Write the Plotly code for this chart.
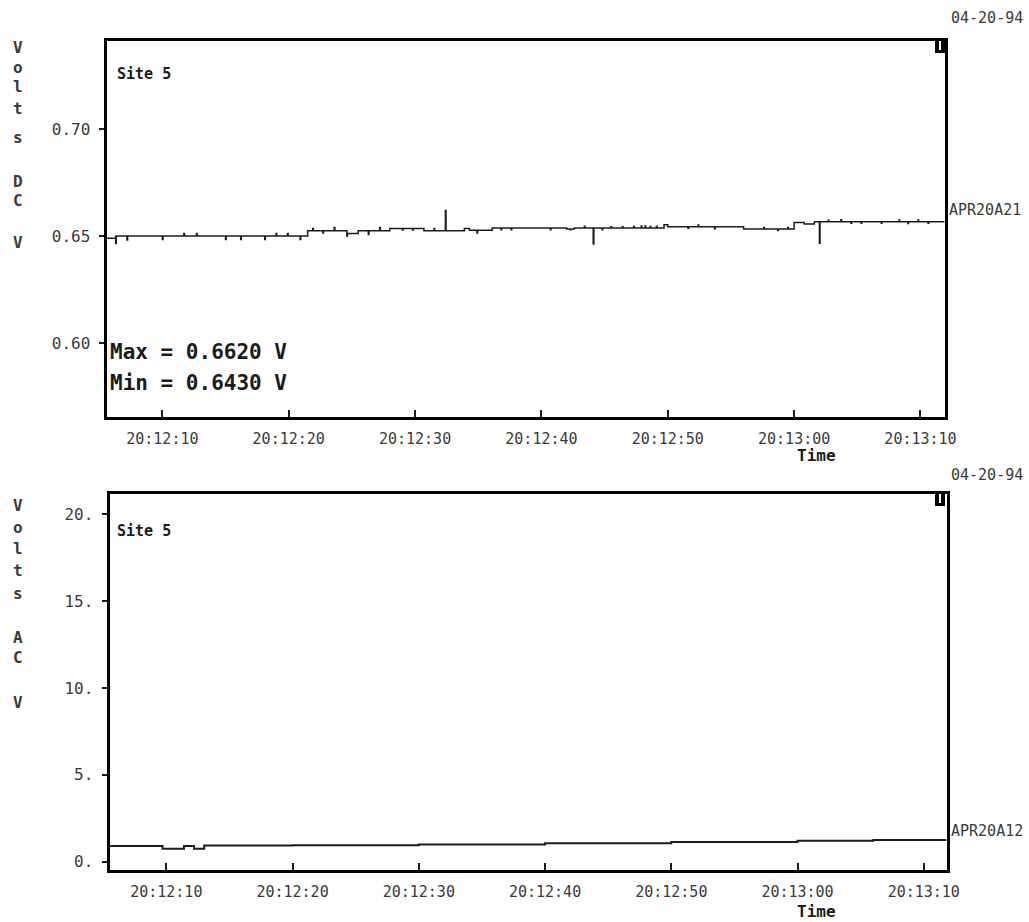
import bisect
import pandas as pd
import plotly.graph_objects as go

# ---------------- data (seconds after 20:12:00 on 04-20-94) ----------------
BASE = "1994-04-20 20:12:00"

# DC channel: step levels (time of change, new level in volts)
dc_step_t = [5.58, 6.3, 21.5, 24.6, 25.5, 28.0, 30.7, 33.9, 34.3, 36.1, 42.0, 42.6,
             49.7, 50.0, 56.0, 60.0, 60.8, 61.6, 71.9]
dc_step_v = [0.6490, 0.6500, 0.6525, 0.6512, 0.6525, 0.6536, 0.6525, 0.6535, 0.6527,
             0.6538, 0.6533, 0.6538, 0.6553, 0.6544, 0.6533, 0.6564, 0.6556, 0.6567,
             0.6566]
# DC channel: single-sample glitches (time, value)
dc_spike_t = [6.3, 7.2, 10.0, 11.7, 12.7, 15.0, 16.2, 18.1, 19.0, 19.9, 20.9, 21.9,
              22.7, 23.6, 24.6, 26.3, 27.2, 29.0, 29.8, 31.5, 32.4, 34.9, 36.8, 37.6,
              40.7, 42.3, 43.4, 44.1, 44.8, 45.5, 46.4, 47.3, 47.9, 48.2, 48.6, 49.1,
              51.6, 52.4, 53.7, 57.6, 58.7, 59.5, 62.0, 62.7, 63.7, 64.5, 65.3, 66.9,
              68.3, 69.0, 69.8, 70.6]
dc_spike_v = [0.6465, 0.6482, 0.6484, 0.6512, 0.6512, 0.6484, 0.6484, 0.6484, 0.6512,
              0.6512, 0.6484, 0.6536, 0.6514, 0.6540, 0.6500, 0.6508, 0.6540, 0.6528,
              0.6528, 0.6536, 0.6620, 0.6514, 0.6530, 0.6530, 0.6530, 0.6530, 0.6546,
              0.6463, 0.6530, 0.6544, 0.6544, 0.6545, 0.6547, 0.6547, 0.6545, 0.6546,
              0.6537, 0.6552, 0.6534, 0.6540, 0.6526, 0.6540, 0.6466, 0.6574, 0.6576,
              0.6560, 0.6560, 0.6560, 0.6575, 0.6559, 0.6575, 0.6560]

# AC channel: step levels (time, volts)
ac_t = [5.5, 9.7, 11.4, 12.2, 13.0, 20.0, 30.0, 40.0, 50.0, 60.0, 66.0, 71.8]
ac_v = [0.90, 0.74, 0.90, 0.74, 0.92, 0.94, 0.98, 1.05, 1.12, 1.19, 1.24, 1.26]

dc_ticks = [0.60, 0.65, 0.70]
ac_ticks = [0, 5, 10, 15, 20]
ac_ticktext = ["0.", "5.", "10.", "15.", "20."]
time_ticks_s = [10, 20, 30, 40, 50, 60, 70]

# ---------------- build DC series with glitches ----------------
GLITCH = 0.05
pts = list(zip(dc_step_t, dc_step_v))
for t, v in zip(dc_spike_t, dc_spike_v):
    i = bisect.bisect_right(dc_step_t, t + GLITCH) - 1
    base_lvl = dc_step_v[max(i, 0)]
    pts.append((t, v))
    pts.append((t + GLITCH, base_lvl))
pts.sort(key=lambda p: p[0])
dc_tt = [p[0] for p in pts]
dc_vv = [p[1] for p in pts]

base = pd.Timestamp(BASE)
def ts(sec_list):
    return [base + pd.Timedelta(seconds=s) for s in sec_list]

W, H = 1029, 922
def px(x):
    return x / W
def py(y):
    return 1 - y / H

MONO = "DejaVu Sans Mono"
INK = "#1c1c1c"
GREY = "#3a3a3a"

fig = go.Figure()
fig.add_trace(go.Scatter(x=ts(dc_tt), y=dc_vv, mode="lines", line_shape="hv",
                         line=dict(color=INK, width=1.5), xaxis="x", yaxis="y",
                         showlegend=False, hoverinfo="skip"))
fig.add_trace(go.Scatter(x=ts(ac_t), y=ac_v, mode="lines", line_shape="hv",
                         line=dict(color=INK, width=2), xaxis="x2", yaxis="y2",
                         showlegend=False, hoverinfo="skip"))

tick_vals = ts(time_ticks_s)
tick_text = [t.strftime("%H:%M:%S") for t in tick_vals]

xcommon = dict(type="date", tickvals=tick_vals, ticktext=tick_text,
               ticks="inside", ticklen=7, tickwidth=1.5, tickcolor=INK,
               showline=True, linecolor="black", linewidth=3, mirror=True,
               showgrid=False, zeroline=False, ticklabelstandoff=6, automargin=False,
               tickfont=dict(family=MONO, size=15, color=GREY))
ycommon = dict(ticks="outside", ticklen=5, tickwidth=1.5, tickcolor=INK,
               showline=True, linecolor="black", linewidth=3, mirror=True,
               showgrid=False, zeroline=False, automargin=False, ticklabelstandoff=5,
               tickfont=dict(family=MONO, size=16, color=GREY))

fig.update_layout(
    template="none",
    width=W, height=H, autosize=False,
    margin=dict(l=0, r=0, t=0, b=0, pad=0),
    paper_bgcolor="white", plot_bgcolor="white",
    xaxis=dict(domain=[px(106.5), px(944.5)], anchor="y",
               range=ts([5.58, 71.9]), **xcommon),
    yaxis=dict(domain=[py(416.5), py(40.5)], anchor="x",
               range=[0.5657, 0.7414], tickvals=dc_ticks,
               ticktext=[f"{v:.2f}" for v in dc_ticks], **ycommon),
    xaxis2=dict(domain=[px(109.5), px(946.5)], anchor="y2",
                range=ts([5.5, 71.8]), **xcommon),
    yaxis2=dict(domain=[py(869.5), py(493.5)], anchor="x2",
                range=[-0.46, 21.2], tickvals=ac_ticks, ticktext=ac_ticktext,
                **ycommon),
)

ann = []
def text(x, y, s, size=15, bold=False, color=INK, xanchor="left", **kw):
    ann.append(dict(xref="paper", yref="paper", x=px(x), y=py(y), text=(f"<b>{s}</b>" if bold else s),
                    showarrow=False, xanchor=xanchor, yanchor="middle",
                    font=dict(family=MONO, size=size, color=color), **kw))

# vertical stacked axis titles
for ch, y in zip("VoltsDCV", [48, 67, 87, 108, 137, 181, 200, 242]):
    text(18, y, ch, size=16, bold=True, xanchor="center", color=GREY)
for ch, y in zip("VoltsACV", [505, 527, 548, 570, 593, 637, 657, 702]):
    text(18, y, ch, size=16, bold=True, xanchor="center", color=GREY)

text(115, 74, "Site 5", size=15, bold=True)
text(115, 531, "Site 5", size=15, bold=True)
text(108, 352, "Max = 0.6620 V", size=21, bold=True)
text(108, 383, "Min = 0.6430 V", size=21, bold=True)
text(816, 455, "Time", size=16, bold=True, xanchor="center")
text(816, 911, "Time", size=16, bold=True, xanchor="center")
text(949, 18, "04-20-94", size=15, color=GREY)
text(949, 475, "04-20-94", size=15, color=GREY)
text(947, 210, "APR20A21", size=15, color=GREY)
text(949, 831, "APR20A12", size=15, color=GREY)

fig.update_layout(annotations=ann)

# small status markers in the top-right corners
shapes = []
for (x0, y0) in [(935, 38), (935, 491)]:
    shapes.append(dict(type="rect", xref="paper", yref="paper",
                       x0=px(x0), x1=px(x0 + 10), y0=py(y0 + 15), y1=py(y0),
                       fillcolor="black", line=dict(width=0)))
    shapes.append(dict(type="line", xref="paper", yref="paper",
                       x0=px(x0 + 5), x1=px(x0 + 5), y0=py(y0 + 12), y1=py(y0 + 3),
                       line=dict(color="white", width=2)))
fig.update_layout(shapes=shapes)

fig.write_html("out.html", config={"displayModeBar": False},
               post_script="document.body.style.margin='0';document.body.style.overflow='hidden';")
